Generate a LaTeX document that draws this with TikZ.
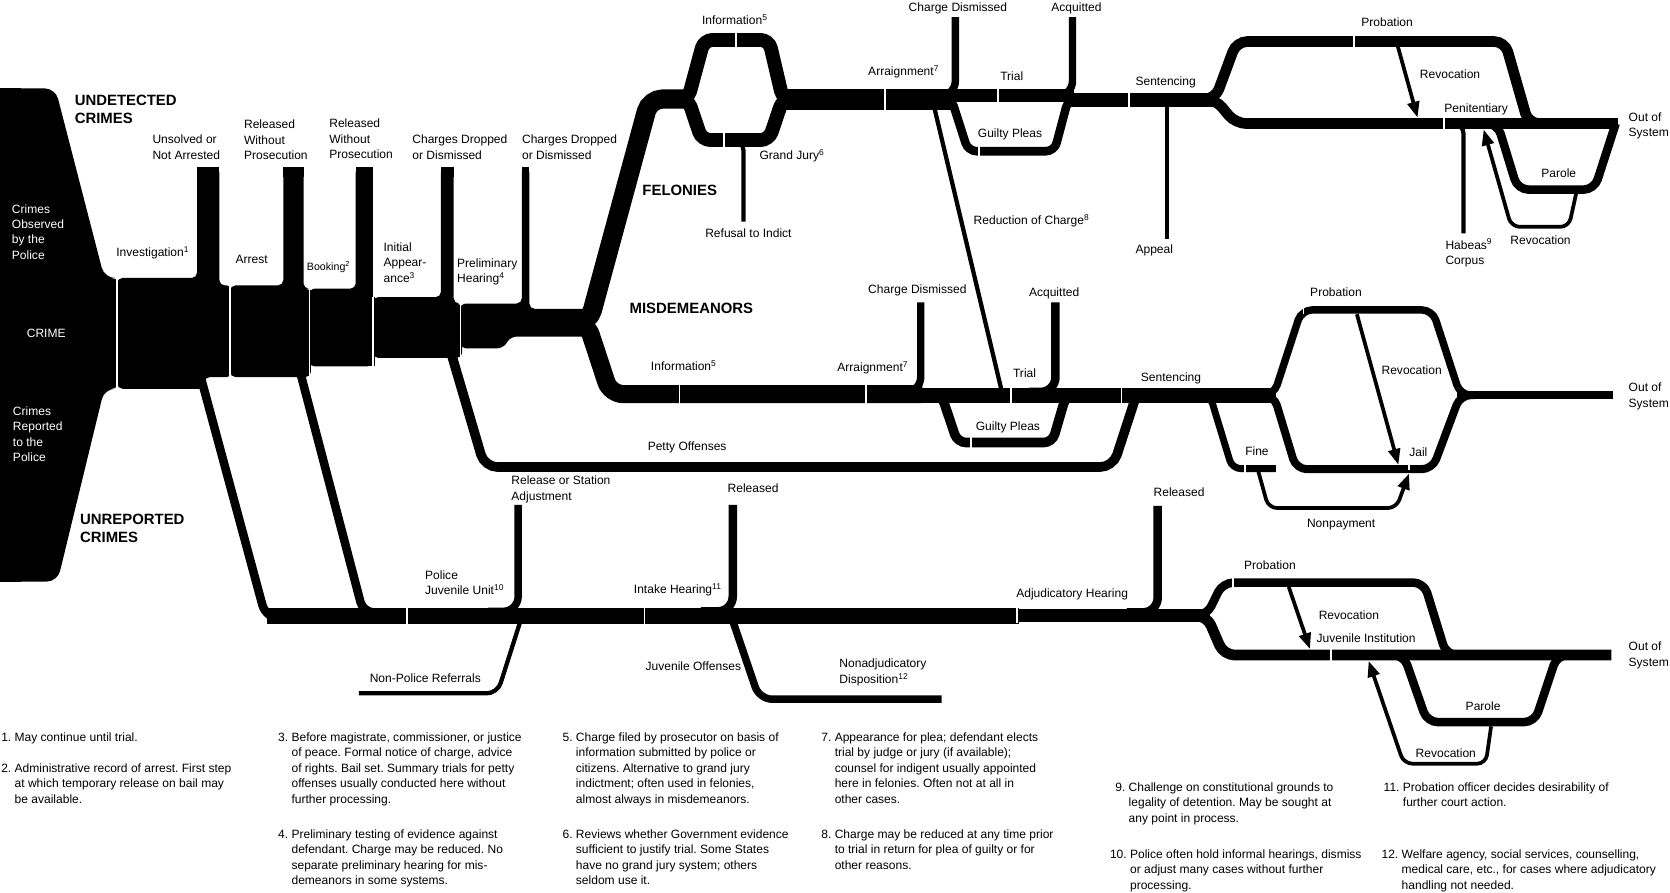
\documentclass[tikz,border=0pt]{standalone}
\usepackage{fontspec}
\setmainfont{Liberation Sans}
\usetikzlibrary{arrows.meta}
\frenchspacing
\newcommand{\lblfont}{\fontsize{11.3}{14.5}\selectfont}
\newcommand{\smfont}{\fontsize{10}{12}\selectfont}
\newcommand{\hdfont}{\fontsize{14}{17}\selectfont\bfseries}
\newcommand{\mlines}[1]{\begin{tabular}[t]{@{}l@{}}#1\end{tabular}}
\newcommand{\fnote}[2]{\begin{tabular}[t]{@{}l@{\ }l@{}}#1 & #2\end{tabular}}
\begin{document}
\begin{tikzpicture}[x=1pt,y=-1pt,
  lbl/.style={font=\lblfont, inner sep=0pt, anchor=base west},
  hd/.style={font=\hdfont, inner sep=0pt, anchor=base west},
  wlbl/.style={lbl, text=white},
  flow/.style={line width=#1, line cap=butt},
  sepw/.style={white, line width=1.6},
  rev/.style={line width=3.5, -{Triangle[length=15pt,width=11pt]}},
]
\useasboundingbox (0,0) rectangle (1568,838);

% ---------------- left block and early stages ----------------
\fill[rounded corners=10] (0,83) -- (52,83) -- (98,261) -- (114,261) -- (114,365) -- (98,365) -- (54,546) -- (0,546) -- cycle;
\fill (0,83) rectangle (20,546);
% investigation
\fill[rounded corners=5] (110,261) -- (185,261) -- (185,157) -- (206,157) -- (206,268) -- (218,268) -- (218,354) -- (192,354) -- (192,365) -- (110,365) -- cycle;
\fill (185,157) rectangle (206,166);
% arrest
\fill[rounded corners=5] (216,268) -- (266,268) -- (266,157) -- (285,157) -- (285,271) -- (292,271) -- (292,354) -- (216,354) -- cycle;
\fill (266,157) rectangle (285,166);
% booking
\fill[rounded corners=5] (290,271) -- (334,271) -- (334,157) -- (350,157) -- (350,344) -- (290,344) -- cycle;
\fill (334,157) rectangle (350,166);
\fill (345,279) rectangle (352,344);
% initial appearance
\fill[rounded corners=5] (350,279) -- (414,279) -- (414,157) -- (426,157) -- (426,285) -- (434,285) -- (434,336) -- (350,336) -- cycle;
\fill (414,157) rectangle (426,166);
% preliminary hearing
\fill[rounded corners=5] (432,285) -- (490,285) -- (490,157) -- (497,157) -- (497,290) -- (556,290) -- (556,316) -- (480,316) -- (472,327) -- (432,327) -- cycle;
\fill (490,157) rectangle (497,166);

% ---------------- felonies ----------------
\draw[flow=18, rounded corners=12] (530,303) -- (553,303) -- (610,93) -- (646,93);
\draw[flow=13, rounded corners=8] (630,93) -- (646,93) -- (661,37.5) -- (722,37.5) -- (735,93) -- (750,93);
\draw[flow=13, rounded corners=8] (630,93) -- (646,93) -- (659,131.5) -- (722,131.5) -- (735,93) -- (750,93);
\draw[flow=4, rounded corners=8] (686,133) -- (698,133) -- (698,208);
\draw[flow=19] (734,93.5) -- (897,93.5);
\draw[flow=7, rounded corners=14] (868,90) -- (897,90) -- (897,16);
\draw[flow=12] (897,90) -- (1008,90);
\draw[flow=7, rounded corners=14] (980,90) -- (1007,90) -- (1007,16);
\draw[flow=13] (1000,93.5) -- (1143,93.5);
\draw[flow=8, rounded corners=8] (880,92) -- (893,92) -- (909,142) -- (990,142) -- (1003,93) -- (1015,93);
\draw[flow=4] (877,100) -- (940,365);
\draw[flow=4] (1096,95) -- (1096,224);
\draw[flow=10, rounded corners=10] (1125,93) -- (1141,93) -- (1161,39) -- (1413,39) -- (1435,116) -- (1450,116);
\draw[flow=10, rounded corners=10] (1125,93) -- (1141,93) -- (1160,116) -- (1519,116);
\draw[rev] (1312,42) -- (1331,110.5);
\draw[flow=4, rounded corners=8] (1362,117) -- (1374,117) -- (1374,219);
\draw[flow=8, rounded corners=10] (1394,116) -- (1406,116) -- (1425,178) -- (1497,178) -- (1517,116);
\draw[rev, rounded corners=8] (1480,181) -- (1473,213) -- (1419,213) -- (1393,121.5);

% ---------------- misdemeanors ----------------
\draw[flow=17, rounded corners=12] (530,303) -- (551,303) -- (573,370) -- (866,370);
\draw[flow=7, rounded corners=14] (838,368) -- (864.5,368) -- (864.5,284);
\draw[flow=14] (864,371) -- (1198,371);
\draw[flow=8, rounded corners=14] (966,368) -- (991,368) -- (991,284);
\draw[flow=9, rounded corners=8] (872,371) -- (884,371) -- (899,415.5) -- (988,415.5) -- (1001,371) -- (1012,371);
\draw[flow=9, rounded corners=12] (424,333) -- (455,438.5) -- (1045,438.5) -- (1066,374);
\draw[flow=6.5, rounded corners=8] (1124,371) -- (1136,371) -- (1157,440) -- (1198,440);
\draw[rev, rounded corners=8] (1181,441) -- (1191,477) -- (1311,477) -- (1323,444.5);
\draw[flow=7, rounded corners=10] (1180,371) -- (1196,371) -- (1222,291) -- (1345,291) -- (1371,371) -- (1385,371);
\draw[flow=7.5, rounded corners=10] (1180,371) -- (1196,371) -- (1217,440.5) -- (1345,440.5) -- (1371,371) -- (1385,371);
\draw[rev] (1274,295) -- (1313,436.5);
\draw[flow=7] (1368,371) -- (1514,371);

% ---------------- juvenile ----------------
\draw[flow=8, rounded corners=14] (189,356) -- (250,581.5) -- (290,581.5);
\draw[flow=8, rounded corners=10] (282,350) -- (341,575) -- (360,575);
\draw[flow=15] (251,578) -- (957,578);
\draw[flow=12] (955,578) -- (1136,578);
\draw[flow=7, rounded corners=14] (458,574) -- (486.5,574) -- (486.5,474);
\draw[flow=4, rounded corners=10] (489,582) -- (467,651) -- (337,651);
\draw[flow=8, rounded corners=14] (658,574) -- (688,574) -- (688,474);
\draw[flow=7, rounded corners=12] (687,580) -- (713,656.5) -- (884,656.5);
\draw[flow=8, rounded corners=14] (1058,575) -- (1087,575) -- (1087,475);
\draw[flow=8, rounded corners=10] (1118,578) -- (1133,578) -- (1148,547) -- (1337,547) -- (1358,615) -- (1372,615);
\draw[flow=10, rounded corners=10] (1118,578) -- (1133,578) -- (1149,615) -- (1513,615);
\draw[rev] (1210,551) -- (1230,609.5);
\draw[flow=8, rounded corners=10] (1305,615) -- (1318,615) -- (1340,678) -- (1441,678) -- (1462,615) -- (1475,615);
\draw[rev, rounded corners=8] (1400,682) -- (1395,717) -- (1318,717) -- (1285,620.5);

% ---------------- separators ----------------
\draw[sepw] (110,261) -- (110,366);
\draw[sepw] (216,268) -- (216,355);
\draw[sepw] (290.5,271) -- (290.5,355);
\draw[sepw] (350.5,279) -- (350.5,345);
\draw[sepw] (432.5,285) -- (432.5,337);
\draw[sepw] (691,30) -- (691,45);
\draw[sepw] (680,124) -- (680,139);
\draw[sepw] (831,83) -- (831,104);
\draw[sepw] (937,83) -- (937,97);
\draw[sepw] (919,137) -- (919,147);
\draw[sepw] (1060,86) -- (1060,101);
\draw[sepw] (1271,33) -- (1271,45);
\draw[sepw] (1356,110) -- (1356,122);
\draw[sepw] (638,361) -- (638,379);
\draw[sepw] (813,361) -- (813,379);
\draw[sepw] (949,363) -- (949,379);
\draw[sepw] (912,410) -- (912,421);
\draw[sepw] (1053,363) -- (1053,379);
\draw[sepw] (1169,436) -- (1169,444);
\draw[sepw] (1224,287) -- (1224,295);
\draw[sepw] (1323,436) -- (1323,441);
\draw[sepw] (382,570) -- (382,586);
\draw[sepw] (605,570) -- (605,586);
\draw[sepw] (955,571) -- (955,585);
\draw[sepw] (1158,542) -- (1158,552);
\draw[sepw] (1250,609) -- (1250,621);

% ---------------- headings ----------------
\node[hd] (hund) at (70,99) {\mlines{UNDETECTED\\CRIMES}};
\node[hd] (hunr) at (75,492) {\mlines{UNREPORTED\\CRIMES}};
\node[hd] (hfel) at (603,184) {FELONIES};
\node[hd] (hmis) at (591,294) {MISDEMEANORS};

% ---------------- labels ----------------
\node[wlbl] (lobs) at (11,200) {\mlines{Crimes\\Observed\\by the\\Police}};
\node[wlbl] (lcrime) at (25,317) {CRIME};
\node[wlbl] (lrep) at (12,390) {\mlines{Crimes\\Reported\\to the\\Police}};
\node[lbl] (lunsolved) at (143,135) {\mlines{Unsolved or\\Not Arrested}};
\node[lbl] (lrel1) at (229,121) {\mlines{Released\\Without\\Prosecution}};
\node[lbl] (lrel2) at (309,120) {\mlines{Released\\Without\\Prosecution}};
\node[lbl] (ldrop1) at (387,135) {\mlines{Charges Dropped\\or Dismissed}};
\node[lbl] (ldrop2) at (490,135) {\mlines{Charges Dropped\\or Dismissed}};
\node[lbl] (linv) at (109,241) {Investigation\textsuperscript{1}};
\node[lbl] (larr) at (221,247) {Arrest};
\node[lbl, font=\smfont] (lbook) at (288,254) {Booking\textsuperscript{2}};
\node[lbl] (linit) at (360,236) {\mlines{Initial\\Appear-\\ance\textsuperscript{3}}};
\node[lbl] (lprel) at (429,251) {\mlines{Preliminary\\Hearing\textsuperscript{4}}};
\node[lbl] (linf1) at (659,23) {Information\textsuperscript{5}};
\node[lbl] (lgj) at (713,150) {Grand Jury\textsuperscript{6}};
\node[lbl] (lrefuse) at (662,223) {Refusal to Indict};
\node[lbl] (lcd1) at (853,11) {Charge Dismissed};
\node[lbl] (lacq1) at (987,11) {Acquitted};
\node[lbl] (larg1) at (815,71) {Arraignment\textsuperscript{7}};
\node[lbl] (ltrial1) at (939,76) {Trial};
\node[lbl] (lgp1) at (918,129) {Guilty Pleas};
\node[lbl] (lred) at (914,211) {Reduction of Charge\textsuperscript{8}};
\node[lbl] (lsent1) at (1066,80) {Sentencing};
\node[lbl] (lappeal) at (1066,238) {Appeal};
\node[lbl] (lprob1) at (1278,25) {Probation};
\node[lbl] (lrev1) at (1333,74) {Revocation};
\node[lbl] (lpen) at (1356,106) {Penitentiary};
\node[lbl] (lout1) at (1529,114) {\mlines{Out of\\System}};
\node[lbl] (lpar1) at (1447,167) {Parole};
\node[lbl] (lhab) at (1357,234) {\mlines{Habeas\textsuperscript{9}\\Corpus}};
\node[lbl] (lrev2) at (1418,230) {Revocation};
\node[lbl] (lcd2) at (815,276) {Charge Dismissed};
\node[lbl] (lacq2) at (966,278) {Acquitted};
\node[lbl] (linf2) at (611,348) {Information\textsuperscript{5}};
\node[lbl] (larg2) at (786,349) {Arraignment\textsuperscript{7}};
\node[lbl] (ltrial2) at (951,354) {Trial};
\node[lbl] (lgp2) at (916,404) {Guilty Pleas};
\node[lbl] (lsent2) at (1071,358) {Sentencing};
\node[lbl] (lprob2) at (1230,278) {Probation};
\node[lbl] (lrev3) at (1297,352) {Revocation};
\node[lbl] (lfine) at (1169,428) {Fine};
\node[lbl] (ljail) at (1323,429) {Jail};
\node[lbl] (lnonpay) at (1227,495) {Nonpayment};
\node[lbl] (lout2) at (1529,368) {\mlines{Out of\\System}};
\node[lbl] (lpetty) at (608,423) {Petty Offenses};
\node[lbl] (lstation) at (480,455) {\mlines{Release or Station\\Adjustment}};
\node[lbl] (lrel3) at (683,462) {Released};
\node[lbl] (lrel4) at (1083,466) {Released};
\node[lbl] (lpju) at (399,544) {\mlines{Police\\Juvenile Unit\textsuperscript{10}}};
\node[lbl] (lintake) at (595,557) {Intake Hearing\textsuperscript{11}};
\node[lbl] (ladj) at (954,561) {Adjudicatory Hearing};
\node[lbl] (lnonpol) at (347,641) {Non-Police Referrals};
\node[lbl] (ljuvoff) at (606,630) {Juvenile Offenses};
\node[lbl] (lnonadj) at (788,627) {\mlines{Nonadjudicatory\\Disposition\textsuperscript{12}}};
\node[lbl] (lprob3) at (1168,535) {Probation};
\node[lbl] (lrev4) at (1238,582) {Revocation};
\node[lbl] (ljinst) at (1236,603) {Juvenile Institution};
\node[lbl] (lout3) at (1529,611) {\mlines{Out of\\System}};
\node[lbl] (lpar2) at (1376,667) {Parole};
\node[lbl] (lrev5) at (1329,711) {Revocation};

% ---------------- footnotes ----------------
\node[lbl] (fn1) at (1,696) {\fnote{1.}{May continue until trial.}};
\node[lbl] (fn2) at (1,725) {\fnote{2.}{Administrative record of arrest. First step\\ & at which temporary release on bail may\\ & be available.}};
\node[lbl] (fn3) at (261,696) {\fnote{3.}{Before magistrate, commissioner, or justice\\ & of peace. Formal notice of charge, advice\\ & of rights. Bail set. Summary trials for petty\\ & offenses usually conducted here without\\ & further processing.}};
\node[lbl] (fn4) at (261,787) {\fnote{4.}{Preliminary testing of evidence against\\ & defendant. Charge may be reduced. No\\ & separate preliminary hearing for mis-\\ & demeanors in some systems.}};
\node[lbl] (fn5) at (528,696) {\fnote{5.}{Charge filed by prosecutor on basis of\\ & information submitted by police or\\ & citizens. Alternative to grand jury\\ & indictment; often used in felonies,\\ & almost always in misdemeanors.}};
\node[lbl] (fn6) at (528,787) {\fnote{6.}{Reviews whether Government evidence\\ & sufficient to justify trial. Some States\\ & have no grand jury system; others\\ & seldom use it.}};
\node[lbl] (fn7) at (771,696) {\fnote{7.}{Appearance for plea; defendant elects\\ & trial by judge or jury (if available);\\ & counsel for indigent usually appointed\\ & here in felonies. Often not at all in\\ & other cases.}};
\node[lbl] (fn8) at (771,787) {\fnote{8.}{Charge may be reduced at any time prior\\ & to trial in return for plea of guilty or for\\ & other reasons.}};
\node[lbl] (fn9) at (1047,743) {\fnote{9.}{Challenge on constitutional grounds to\\ & legality of detention. May be sought at\\ & any point in process.}};
\node[lbl] (fn10) at (1042,806) {\fnote{10.}{Police often hold informal hearings, dismiss\\ & or adjust many cases without further\\ & processing.}};
\node[lbl] (fn11) at (1299,743) {\fnote{11.}{Probation officer decides desirability of\\ & further court action.}};
\node[lbl] (fn12) at (1297,806) {\fnote{12.}{Welfare agency, social services, counselling,\\ & medical care, etc., for cases where adjudicatory\\ & handling not needed.}};
\end{tikzpicture}
\end{document}
